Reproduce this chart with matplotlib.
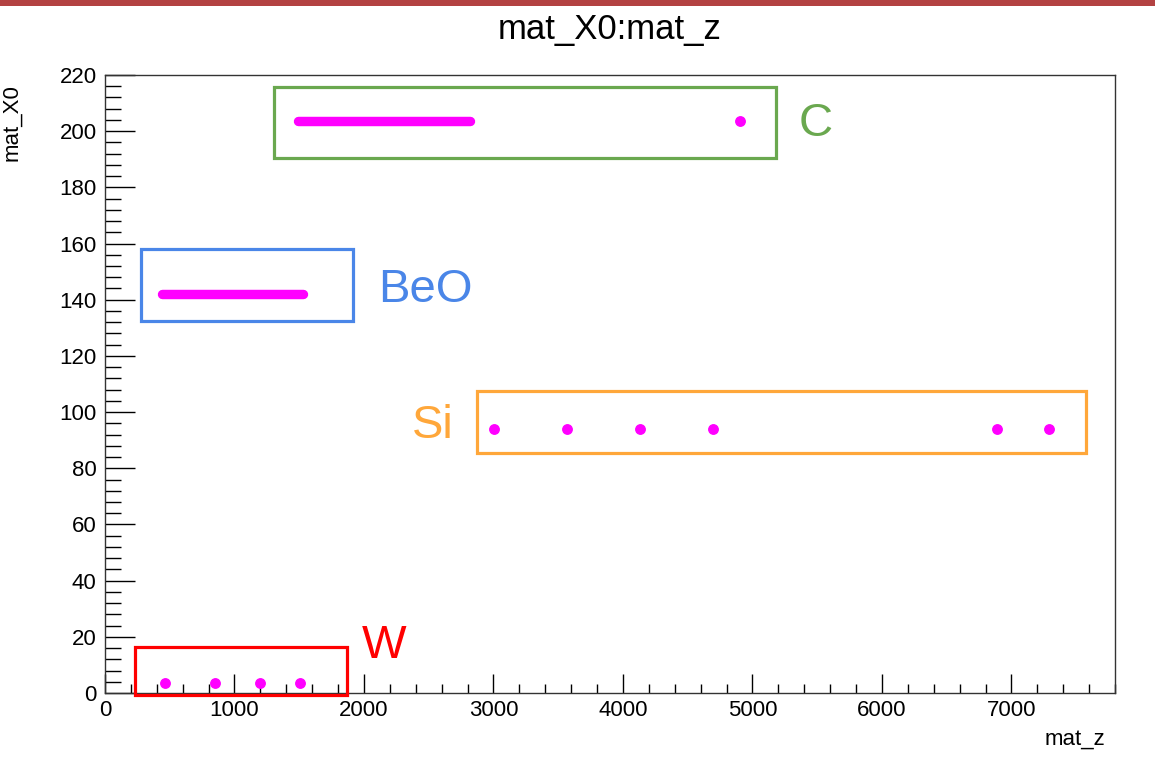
#mat_X0 vs mat_z scatter, ROOT-like look, with material boxes

import matplotlib
matplotlib.use('Agg')
import matplotlib.pyplot as plt
from matplotlib.patches import Rectangle
from matplotlib.ticker import MultipleLocator

#data
w_z = [463, 849, 1197, 1506]
w_x0 = [3.5, 3.5, 3.5, 3.5]

si_z = [3004, 3568, 4131, 4695, 6888, 7290]
si_x0 = [93.9, 93.9, 93.9, 93.9, 93.9, 93.9]

beo_z = [440, 1529]        #dense run of points, start and end
beo_x0 = [142.0, 142.0]

c_z = [1490, 2818]         #dense run of points, start and end
c_x0 = [203.6, 203.6]
c_single_z = [4903]
c_single_x0 = [203.6]

#material boxes: name, z0, z1, x0_low, x0_high
box_names = ['W', 'BeO', 'Si', 'C']
box_z0 = [232, 278, 2873, 1305]
box_z1 = [1869, 1915, 7575, 5181]
box_y0 = [-0.7, 132.5, 85.4, 190.4]
box_y1 = [16.4, 158.2, 107.5, 215.7]
box_colors = ['#ff0000', '#4a86e8', '#ffa73a', '#6aa84f']
label_z = [1986, 2110, 2690, 5360]
label_y = [16.7, 143.5, 95.0, 202.5]
label_ha = ['left', 'left', 'right', 'left']

plt.rcParams['font.family'] = ['Liberation Sans', 'DejaVu Sans']

fig = plt.figure(figsize=(11.55, 7.59), dpi=100)
ax = fig.add_axes([105/1155, 66/759, 1010/1155, 618/759])

#red bar along the top
fig.patches.append(Rectangle((0, 1 - 6/759), 1, 6/759, transform=fig.transFigure,
                             facecolor='#b34242', edgecolor='none'))

pink = '#ff00ff'
ax.plot(beo_z, beo_x0, color=pink, lw=6.8, solid_capstyle='round')
ax.plot(c_z, c_x0, color=pink, lw=6.8, solid_capstyle='round')
ax.plot(c_single_z, c_single_x0, 'o', color=pink, ms=6.8)
ax.plot(w_z, w_x0, 'o', color=pink, ms=6.8)
ax.plot(si_z, si_x0, 'o', color=pink, ms=6.8)

for i in range(len(box_names)):
    ax.add_patch(Rectangle((box_z0[i], box_y0[i]), box_z1[i] - box_z0[i], box_y1[i] - box_y0[i],
                           fill=False, edgecolor=box_colors[i], lw=2.3, clip_on=False, zorder=3))
    ax.text(label_z[i], label_y[i], box_names[i], color=box_colors[i], fontsize=34,
            ha=label_ha[i], va='center')

ax.set_xlim(0, 7800)
ax.set_ylim(0, 220)
ax.xaxis.set_major_locator(MultipleLocator(1000))
ax.xaxis.set_minor_locator(MultipleLocator(200))
ax.yaxis.set_major_locator(MultipleLocator(20))
ax.yaxis.set_minor_locator(MultipleLocator(4))

ax.tick_params(axis='x', which='major', direction='in', length=13.5, width=1, labelsize=16, pad=5)
ax.tick_params(axis='x', which='minor', direction='in', length=6.5, width=1)
ax.tick_params(axis='y', which='major', direction='in', length=21.5, width=1, labelsize=16, pad=6)
ax.tick_params(axis='y', which='minor', direction='in', length=11.5, width=1)

for s in ax.spines.values():
    s.set_linewidth(1)
    s.set_color('#333333')

ax.set_title('mat_X0:mat_z', fontsize=25, pad=26)
ax.set_xlabel('mat_z', fontsize=16)
ax.xaxis.set_label_coords(0.99, -0.058)
ax.xaxis.label.set_ha('right')
ax.set_ylabel('mat_X0', fontsize=16)
ax.yaxis.set_label_coords(-0.082, 0.985)
ax.yaxis.label.set_ha('right')

fig.savefig('out.png', dpi=100)
